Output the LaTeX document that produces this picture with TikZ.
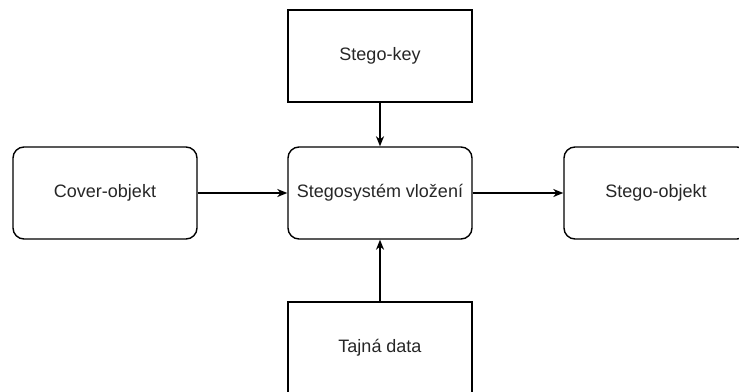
\documentclass[tikz,border=0pt]{standalone}
\usepackage{fontspec}
\setmainfont{Liberation Sans}
\usetikzlibrary{arrows.meta}
\definecolor{txt}{HTML}{262626}
\tikzset{
  blockbase/.style={draw=black, line width=1.4pt, minimum width=184pt, minimum height=92pt,
    inner sep=0pt, text=txt, font=\fontsize{18}{22}\selectfont},
  roundbox/.style={blockbase, rounded corners=11pt},
  sqbox/.style={blockbase},
  flow/.style={draw=black, line width=1.4pt, -{Stealth[length=10pt,width=8pt,inset=3pt]}}
}
\begin{document}
\begin{tikzpicture}[x=1pt,y=-1pt]
  \useasboundingbox (0,0) rectangle (739,391);
  \node[sqbox]    (key)   at (380,56)  {Stego-key};
  \node[roundbox] (cover) at (105,193) {Cover-objekt};
  \node[roundbox] (sys)   at (380,193) {Stegosystém vložení};
  \node[roundbox] (out)   at (656,193) {Stego-objekt};
  \node[sqbox]    (data)  at (380,348) {Tajná data};
  \draw[flow] (key) -- (sys);
  \draw[flow] (cover) -- (sys);
  \draw[flow] (sys) -- (out);
  \draw[flow] (data) -- (sys);
\end{tikzpicture}
\end{document}
